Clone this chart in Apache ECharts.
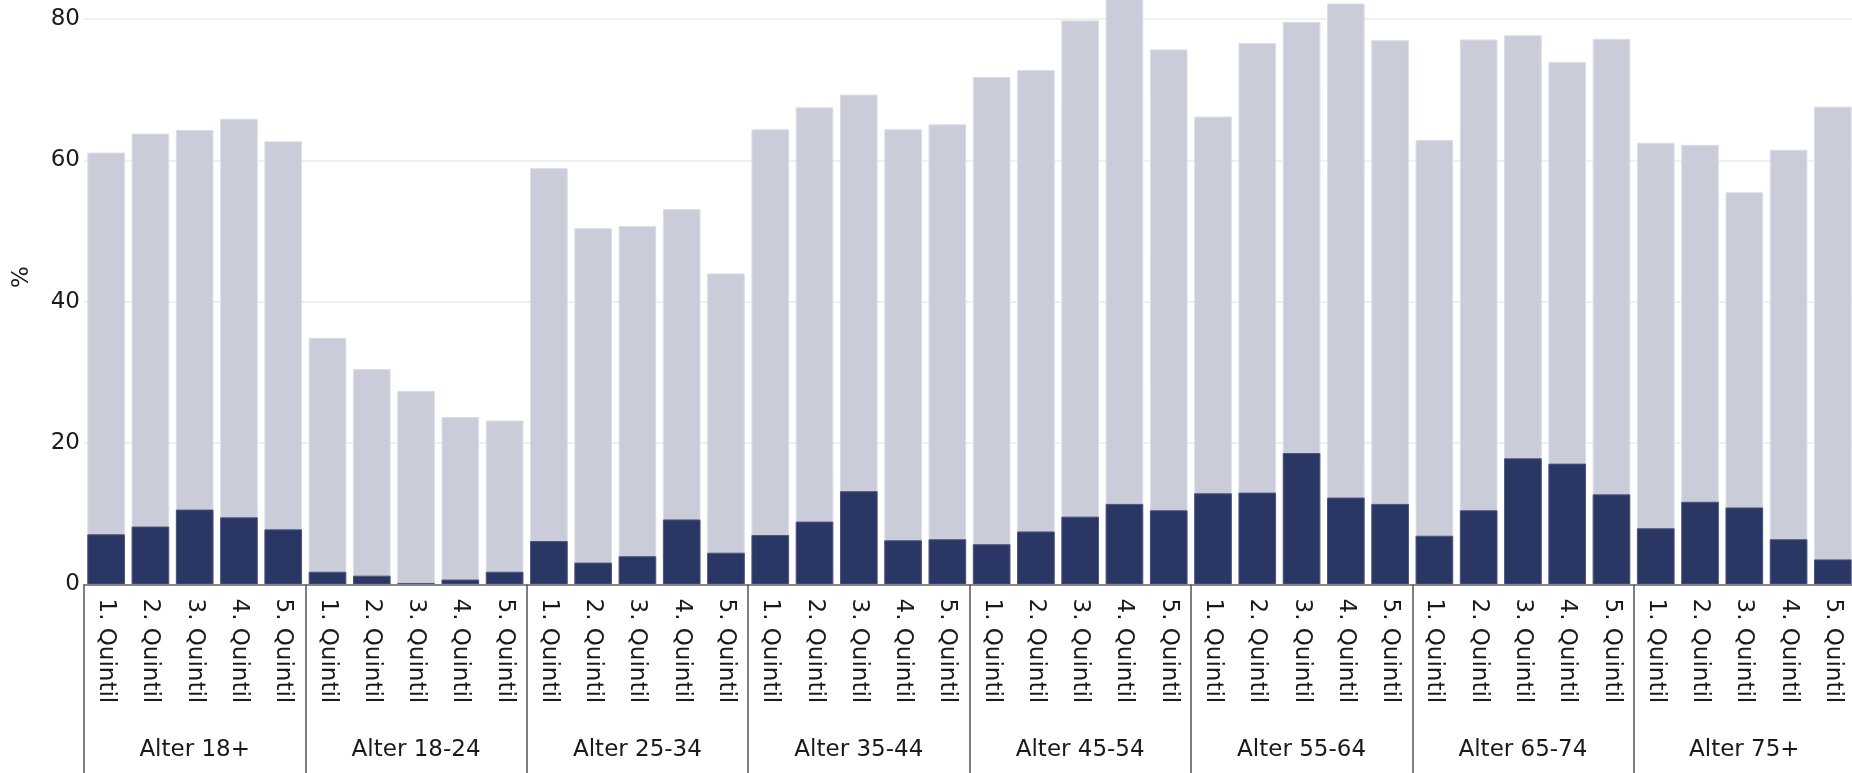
<!DOCTYPE html>
<html>
<head>
<meta charset="utf-8">
<script src="https://cdn.jsdelivr.net/npm/echarts@6/dist/echarts.min.js"></script>
<style>
html,body{margin:0;padding:0;background:#fff;}
#chart{width:1852px;height:773px;}
</style>
</head>
<body>
<div id="chart"></div>
<script>
// age groups and income quintiles
var groups=['Alter 18+','Alter 18-24','Alter 25-34','Alter 35-44','Alter 45-54','Alter 55-64','Alter 65-74','Alter 75+'];
var quintils=['1. Quintil','2. Quintil','3. Quintil','4. Quintil','5. Quintil'];

// light bars (total share, %)
var totalValues=[
	61.1,63.8,64.3,65.9,62.7,
	34.9,30.5,27.4,23.7,23.2,
	58.9,50.4,50.7,53.1,44.0,
	64.4,67.5,69.3,64.4,65.1,
	71.8,72.8,79.8,85.0,75.7,
	66.2,76.6,79.6,82.2,77.0,
	62.9,77.1,77.7,73.9,77.2,
	62.5,62.2,55.5,61.5,67.6
];
// dark bars (%)
var darkValues=[
	7.1,8.2,10.6,9.5,7.8,
	1.8,1.25,0.2,0.7,1.8,
	6.15,3.1,4.0,9.2,4.5,
	7.0,8.9,13.2,6.25,6.4,
	5.7,7.5,9.6,11.4,10.5,
	12.9,13.0,18.6,12.3,11.4,
	6.9,10.5,17.85,17.1,12.75,
	7.95,11.7,10.9,6.4,3.55
];

var cats=[];
for(var g=0;g<groups.length;g++){
	for(var q=0;q<quintils.length;q++){
		cats.push(quintils[q]);
	}
}

var font='"DejaVu Sans", sans-serif';
var chart=echarts.init(document.getElementById('chart'));
chart.setOption({
	animation:false,
	grid:{left:84,right:-3,top:-30.5,bottom:188.5,containLabel:false,outerBoundsMode:'none'},
	xAxis:[{
		type:'category',
		data:cats,
		position:'bottom',
		offset:0,
		axisLine:{show:true,lineStyle:{color:'#666',width:1.5}},
		axisTick:{show:false},
		axisLabel:{
			interval:0,rotate:-90,margin:14,
			fontFamily:font,fontSize:23,color:'#1a1a1a',
			padding:[12,0,0,0]
		}
	},{
		type:'category',
		data:groups,
		position:'bottom',
		offset:0,
		axisLine:{show:false},
		axisTick:{show:true,interval:0,length:200,lineStyle:{color:'#555',width:1.5}},
		axisLabel:{interval:0,margin:154,fontFamily:font,fontSize:23,color:'#1a1a1a'}
	}],
	yAxis:{
		type:'value',
		min:0,max:87,interval:20,
		name:'%',
		nameLocation:'middle',
		nameRotate:90,
		nameGap:50,
		nameTextStyle:{fontFamily:font,fontSize:23,color:'#1a1a1a'},
		axisLine:{show:false},
		axisTick:{show:false},
		axisLabel:{margin:4,fontFamily:font,fontSize:23,color:'#1a1a1a'},
		splitLine:{lineStyle:{color:'#ebebeb',width:1.5}}
	},
	series:[{
		type:'bar',
		data:totalValues,
		barCategoryGap:'15%',
		barGap:'-100%',
		itemStyle:{color:'#cacdd9',borderColor:'#dcdee6',borderWidth:1}
	},{
		type:'bar',
		data:darkValues,
		barCategoryGap:'15%',
		barGap:'-100%',
		itemStyle:{color:'#2a3663',borderColor:'#4b557c',borderWidth:1}
	}]
});
</script>
</body>
</html>
